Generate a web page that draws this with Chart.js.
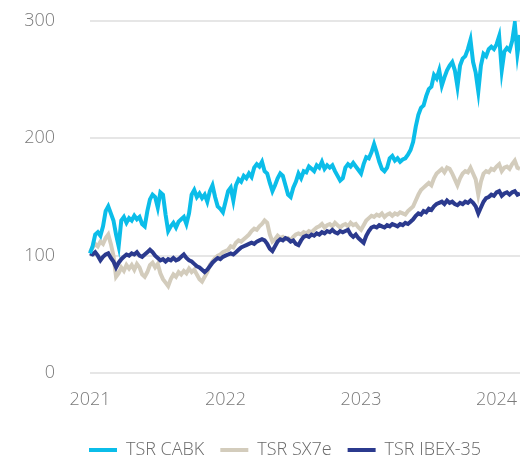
<!DOCTYPE html>
<html>
<head>
<meta charset="utf-8">
<script src="https://cdn.jsdelivr.net/npm/chart.js@4"></script>
<style>
  html, body { margin: 0; padding: 0; background: #fff; }
  #wrap { width: 520px; height: 458px; }
</style>
</head>
<body>
<div id="wrap"><canvas id="myChart"></canvas></div>
<script>
// weekly values, Jan 2021 -> Mar 2024 (base 100)
const cabk = [
  102, 108, 118, 120, 117, 125, 138, 142, 136, 130, 118, 108, 130, 133, 128, 132, 130, 134, 131, 133,
  127, 125, 138, 148, 152, 150, 141, 154, 152, 135, 121, 125, 128, 124, 129, 131, 133, 127, 136, 152,
  156, 150, 153, 149, 152, 146, 155, 160, 150, 142, 140, 137, 146, 155, 158, 147, 160, 165, 163, 168,
  166, 170, 167, 175, 178, 176, 180, 172, 170, 162, 155, 160, 166, 170, 168, 160, 152, 150, 158, 163,
  170, 166, 172, 171, 176, 174, 172, 177, 175, 180, 174, 177, 175, 177, 172, 168, 164, 166, 175, 178,
  176, 179, 176, 173, 170, 178, 184, 183, 188, 195, 188, 180, 174, 172, 175, 183, 185, 181, 183, 180,
  182, 183, 186, 190, 197, 210, 220, 226, 228, 236, 242, 244, 254, 251, 258, 245, 252, 258, 262, 265,
  258, 244, 262, 268, 270, 276, 284, 265, 256, 240, 262, 272, 270, 276, 278, 276, 280, 287, 258, 274,
  277, 275, 283, 298, 272, 288
];
const sx7e = [
  103, 107, 110, 108, 112, 110, 115, 118, 110, 100, 82, 85, 90, 87, 92, 89, 92, 88, 93, 90,
  84, 82, 86, 92, 94, 90, 93, 85, 80, 77, 74, 80, 84, 82, 86, 84, 87, 85, 89, 86,
  88, 84, 80, 78, 82, 86, 92, 95, 98, 100, 101, 103, 104, 105, 108, 107, 111, 113, 112, 114,
  116, 118, 121, 123, 122, 125, 127, 130, 128, 118, 112, 114, 117, 115, 116, 114, 115, 113, 116, 118,
  119, 118, 120, 119, 121, 120, 122, 124, 125, 127, 124, 126, 127, 125, 128, 126, 124, 126, 127, 125,
  128, 126, 127, 124, 122, 126, 130, 132, 134, 133, 135, 134, 136, 133, 135, 136, 134, 136, 135, 137,
  136, 135, 138, 140, 142, 147, 152, 156, 158, 160, 162, 160, 166, 170, 172, 174, 171, 175, 174, 170,
  165, 160, 166, 170, 172, 171, 175, 170, 165, 152, 163, 170, 172, 171, 174, 173, 176, 178, 172, 175,
  176, 174, 178, 181, 175, 174
];
const ibex = [
  102, 101, 103, 100, 96, 99, 101, 102, 98, 95, 90, 94, 97, 99, 101, 100, 102, 101, 103, 100,
  99, 101, 103, 105, 103, 100, 98, 96, 97, 95, 97, 96, 98, 96, 97, 99, 101, 98, 96, 95,
  93, 91, 90, 88, 86, 88, 91, 94, 96, 98, 97, 99, 100, 101, 102, 101, 103, 105, 107, 108,
  109, 110, 111, 110, 112, 113, 114, 113, 110, 106, 104, 108, 112, 114, 113, 115, 114, 112, 113, 110,
  109, 113, 116, 117, 116, 118, 117, 119, 118, 120, 119, 121, 120, 122, 120, 119, 121, 120, 121, 122,
  118, 116, 118, 115, 113, 111, 117, 121, 124, 125, 124, 126, 125, 124, 126, 125, 127, 126, 125, 127,
  126, 128, 127, 129, 131, 134, 136, 135, 138, 137, 140, 139, 142, 144, 145, 146, 144, 147, 145, 146,
  144, 143, 145, 144, 146, 145, 147, 145, 142, 136, 141, 146, 149, 150, 152, 151, 154, 155, 151, 153,
  154, 152, 154, 155, 152, 153
];
const seriesNames = ["TSR CABK", "TSR SX7e", "TSR IBEX-35"];
const yearLabels = ["2021", "2022", "2023", "2024"];
const yearStart = [0, 52, 104, 156]; // week index of each January
const weeks = cabk.map((v, i) => i);

const font = { family: "'Open Sans', sans-serif", size: 18, weight: "300" };

// the legend in the original sits a bit right of centre
const legendShift = {
  id: "legendShift",
  afterLayout: (chart) => {
    chart.legend.left += 25;
    chart.legend.right += 25;
  },
};

let ctx = document.getElementById("myChart").getContext("2d");

let lineChart = new Chart(ctx, {
  type: "line",
  data: {
    labels: weeks,
    datasets: [
      { label: seriesNames[0], data: cabk, borderColor: "#0bbde9", backgroundColor: "#0bbde9", order: 0 },
      { label: seriesNames[1], data: sx7e, borderColor: "#d3ccbc", backgroundColor: "#d3ccbc", order: 2 },
      { label: seriesNames[2], data: ibex, borderColor: "#2b3a8e", backgroundColor: "#2b3a8e", order: 1 },
    ],
  },
  plugins: [legendShift],
  options: {
    responsive: true,
    maintainAspectRatio: false,
    animation: false,
    layout: { autoPadding: false, padding: { top: 21, bottom: -11, left: 0, right: 0 } },
    elements: {
      line: { borderWidth: 4, tension: 0 },
      point: { radius: 0 },
    },
    scales: {
      x: {
        grid: { display: false, drawTicks: false },
        border: { display: false },
        ticks: {
          autoSkip: false,
          maxRotation: 0,
          padding: 16,
          color: "#7a7a7a",
          font: font,
          callback: (value, index) => {
            const k = yearStart.indexOf(index);
            return k >= 0 ? yearLabels[k] : null;
          },
        },
        afterFit: (scale) => {
          scale.height = 52;
          scale.paddingLeft = 0;
          scale.paddingRight = 0;
        },
      },
      y: {
        min: 0,
        max: 300,
        grid: { color: "#e6e6e6", lineWidth: 2, drawTicks: false },
        border: { display: false },
        ticks: { stepSize: 100, padding: 35, color: "#7a7a7a", font: font },
        afterFit: (scale) => {
          scale.width = 90;
          scale.paddingTop = 0;
          scale.paddingBottom = 0;
        },
      },
    },
    plugins: {
      tooltip: { enabled: false },
      legend: {
        position: "bottom",
        labels: {
          boxWidth: 28,
          boxHeight: 4,
          padding: 16,
          color: "#6a6a6a",
          font: font,
          sort: (a, b) => a.datasetIndex - b.datasetIndex,
          generateLabels: (chart) =>
            Chart.defaults.plugins.legend.labels.generateLabels(chart).map((l) => ({
              ...l,
              lineWidth: 0,
              fillStyle: l.strokeStyle,
            })),
        },
      },
    },
  },
});
</script>
</body>
</html>
